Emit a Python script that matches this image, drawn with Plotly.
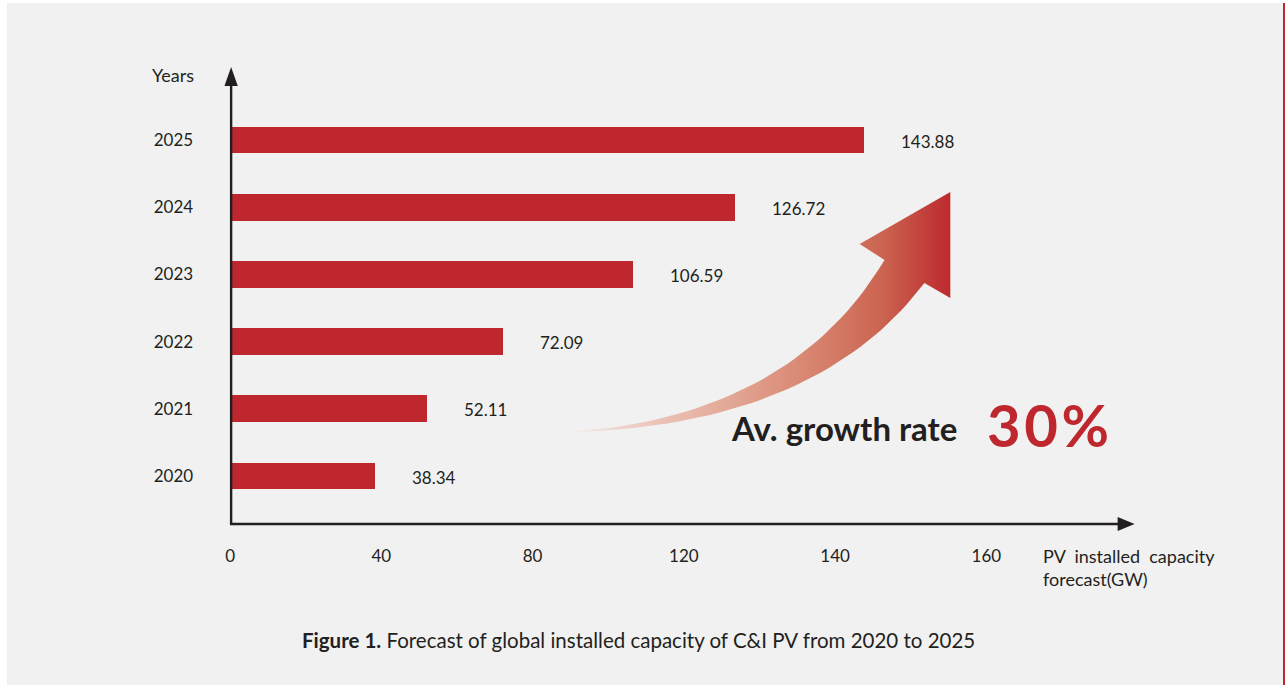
import numpy as np
import plotly.graph_objects as go

# ---------------- data ----------------
years = ["2020", "2021", "2022", "2023", "2024", "2025"]
capacity_gw = [38.34, 52.11, 72.09, 106.59, 126.72, 143.88]
tick_values = [0, 40, 80, 120, 140, 160]
tick_labels = ["0", "40", "80", "120", "140", "160"]
growth_label = "Av. growth rate"
growth_value = "30%"
caption_bold = "Figure 1."
caption_rest = "Forecast of global installed capacity of C&amp;I PV from 2020 to 2025"
x_title = "PV&#160;&#160;installed&#160;&#160;capacity<br>forecast(GW)"
y_title = "Years"

# ---------------- style ----------------
W, H = 1285, 685
FONT = "Lato, 'Open Sans', sans-serif"
INK = "#231f20"
RED = "#be272e"
BG = "#f0f1f0"


def scale(v):
    """Piecewise axis scale: the labelled ticks are evenly spaced."""
    return np.interp(v, tick_values, np.arange(len(tick_values)))


# pixel geometry of the plotting frame
X0, X_END = 226, 1137          # x pixel of value 0 and of scale index 6
Y_AXIS, Y_TOP = 524, 60        # bottom axis line / top of y domain
ROW0, ROW_STEP = 476, 67.2     # centre of first row, row spacing

y_pos = list(range(len(years)))

fig = go.Figure()

# bars
fig.add_trace(go.Bar(
    x=scale(capacity_gw), y=y_pos, orientation="h", width=0.4,
    marker=dict(color=RED, line=dict(width=0)),
    xaxis="x", yaxis="y", hoverinfo="skip", showlegend=False,
))

# decorative curved arrow (pixel coordinates on an overlay axis)
def bez(p0, p1, p2, n=40):
    t = np.linspace(0, 1, n)[:, None]
    p0, p1, p2 = map(np.array, (p0, p1, p2))
    return (1 - t) ** 2 * p0 + 2 * (1 - t) * t * p1 + t ** 2 * p2

upper = bez((570, 432), (790, 415), (883, 260))
lower = bez((923, 283), (815, 425), (570, 432))
head = np.array([(858, 244), (949, 192), (949, 298), (923, 283)])
pts = np.vstack([upper, head, lower])
fig.add_trace(go.Scatter(
    x=pts[:, 0], y=pts[:, 1], mode="lines", fill="toself",
    line=dict(width=0, color="rgba(0,0,0,0)"),
    fillgradient=dict(type="horizontal", colorscale=[
        [0.0, "#f4e6e1"], [0.35, "#e6b1a1"], [0.6, "#d98a75"],
        [0.82, "#cb6450"], [1.0, "#bd2a2e"]]),
    xaxis="x2", yaxis="y2", hoverinfo="skip", showlegend=False,
))

shapes = [
    dict(type="rect", xref="paper", yref="paper", x0=2 / W, x1=1283 / W, y0=0, y1=1 - 3 / H,
         fillcolor=BG, line=dict(width=0), layer="below"),
    dict(type="rect", xref="paper", yref="paper", x0=1283 / W, x1=1, y0=0, y1=1 - 3 / H,
         fillcolor=RED, line=dict(width=0), layer="below"),
    # y axis line + arrowhead
    dict(type="line", xref="x2", yref="y2", x0=227, x1=227, y0=Y_AXIS + 1, y1=84,
         line=dict(color=INK, width=2.4)),
    dict(type="path", xref="x2", yref="y2", path="M 220.3 86 L 233.7 86 L 227 67 Z",
         fillcolor=INK, line=dict(width=0)),
    # x axis line + arrowhead
    dict(type="line", xref="x2", yref="y2", x0=226, x1=1119, y0=Y_AXIS, y1=Y_AXIS,
         line=dict(color=INK, width=2.4)),
    dict(type="path", xref="x2", yref="y2", path="M 1117 517 L 1117 531 L 1134 524 Z",
         fillcolor=INK, line=dict(width=0)),
]

annotations = []
for v, yy in zip(capacity_gw, y_pos):
    annotations.append(dict(
        x=scale(v), y=yy, xref="x", yref="y", text=f"{v:.2f}",
        showarrow=False, xanchor="left", xshift=35, yshift=-1,
        font=dict(family=FONT, size=17, color=INK)))

annotations += [
    dict(x=169, y=75, xref="x2", yref="y2", text=y_title, showarrow=False,
         font=dict(family=FONT, size=18, color=INK)),
    dict(x=1040, y=567, xref="x2", yref="y2", text=x_title, showarrow=False,
         xanchor="left", align="left", font=dict(family=FONT, size=18, color=INK)),
    dict(x=727, y=428, xref="x2", yref="y2", text=f"<b>{growth_label}</b>",
         showarrow=False, xanchor="left",
         font=dict(family=FONT, size=33, color=INK)),
    dict(x=984, y=424, xref="x2", yref="y2",
         text="<b>" + "\u200a".join(growth_value) + "</b>",
         showarrow=False, xanchor="left",
         font=dict(family=FONT, size=58, color=RED)),
    dict(x=636, y=640, xref="x2", yref="y2",
         text=f"<b>{caption_bold}</b> {caption_rest}", showarrow=False,
         font=dict(family=FONT, size=20.5, color=INK)),
]

fig.update_layout(
    width=W, height=H, margin=dict(l=0, r=0, t=0, b=0, pad=0),
    paper_bgcolor="white", plot_bgcolor="rgba(0,0,0,0)",
    showlegend=False, bargap=0,
    xaxis=dict(
        domain=[X0 / W, X_END / W], range=[0, 6], anchor="y",
        tickvals=scale(tick_values), ticktext=tick_labels,
        showgrid=False, zeroline=False, showline=False, ticks="",
        ticklabelstandoff=20, tickfont=dict(family=FONT, size=17, color=INK),
        fixedrange=True,
    ),
    yaxis=dict(
        domain=[(H - Y_AXIS) / H, (H - Y_TOP) / H],
        range=[(ROW0 - Y_AXIS) / ROW_STEP, (ROW0 - Y_TOP) / ROW_STEP], anchor="x",
        tickvals=y_pos, ticktext=years,
        showgrid=False, zeroline=False, showline=False, ticks="",
        ticklabelstandoff=36, tickfont=dict(family=FONT, size=17, color=INK),
        fixedrange=True,
    ),
    xaxis2=dict(domain=[0, 1], range=[0, W], anchor="y2", visible=False, fixedrange=True),
    yaxis2=dict(domain=[0, 1], range=[H, 0], anchor="x2", visible=False, fixedrange=True),
    shapes=shapes,
    annotations=annotations,
)

fig.write_html(
    "out.html",
    config={"displayModeBar": False},
    post_script="document.body.style.margin='0';document.body.style.padding='0';",
)
